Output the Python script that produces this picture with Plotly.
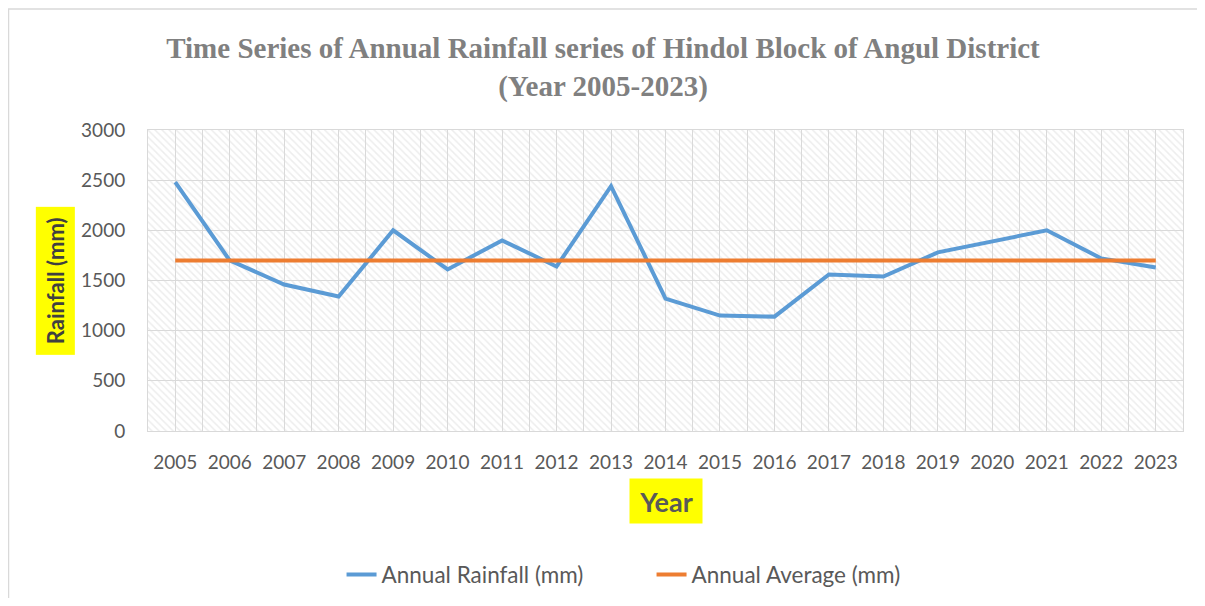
import plotly.graph_objects as go

# ---------------------------------------------------------------
# DATA
# ---------------------------------------------------------------
years = [2005, 2006, 2007, 2008, 2009, 2010, 2011, 2012, 2013, 2014,
         2015, 2016, 2017, 2018, 2019, 2020, 2021, 2022, 2023]
rainfall = [2480, 1700, 1460, 1340, 2000, 1610, 1900, 1640, 2440, 1320,
            1150, 1140, 1560, 1540, 1780, 1890, 2000, 1720, 1630]
average = [1700] * len(years)
y_ticks = [0, 500, 1000, 1500, 2000, 2500, 3000]

C_BLUE = "#5B9BD5"
C_ORANGE = "#ED7D31"
C_GRID = "#d9d9d9"
C_TEXT = "#595959"
FONT_SANS = "Lato, Open Sans, sans-serif"
TICK_FONT = dict(family=FONT_SANS, size=19, color=C_TEXT)

fig = go.Figure()

# hatched plot background (one bar per category, full axis height)
fig.add_trace(
    go.Bar(
        x=years,
        y=[y_ticks[-1]] * len(years),
        width=1,
        marker=dict(
            color="rgba(0,0,0,0)",
            line=dict(width=0),
            pattern=dict(shape="\\", fgcolor="#dcdcdc", bgcolor="rgba(0,0,0,0)",
                         size=5, solidity=0.3),
        ),
        showlegend=False,
        hoverinfo="skip",
    )
)

fig.add_trace(
    go.Scatter(
        x=years, y=rainfall, mode="lines", name="Annual Rainfall (mm)",
        line=dict(color=C_BLUE, width=4),
    )
)
fig.add_trace(
    go.Scatter(
        x=years, y=average, mode="lines", name="Annual Average (mm)",
        line=dict(color=C_ORANGE, width=4),
    )
)

# axis titles with yellow highlight
fig.add_annotation(
    x=-0.09, y=0.5, xref="paper", yref="paper", xanchor="center", yanchor="middle",
    text="<b>Rainfall (mm)</b>", textangle=-90, showarrow=False,
    bgcolor="#FFFF00", borderpad=4, width=139, height=30,
    font=dict(family=FONT_SANS, size=22, color="#404040"),
)
fig.add_annotation(
    x=0.5, y=-0.2326, xref="paper", yref="paper", xanchor="center", yanchor="middle",
    text="<b>Year</b>", showarrow=False,
    bgcolor="#FFFF00", borderpad=4, width=64, height=36,
    font=dict(family=FONT_SANS, size=27, color=C_TEXT),
)

# outer chart frame (only top and left edges fall inside the picture)
fig.add_shape(type="rect", xref="paper", yref="paper", x0=-0.1348, x1=1.2,
              y0=-1.0, y1=1.402, line=dict(color=C_GRID, width=1.5))

fig.update_layout(
    width=1190,
    height=590,
    margin=dict(l=140, r=15, t=122, b=167, autoexpand=False),
    paper_bgcolor="white",
    plot_bgcolor="white",
    bargap=0,
    title=dict(
        text="<b>Time Series of Annual Rainfall series of Hindol Block of Angul District<br>(Year 2005-2023)</b>",
        x=0.5, xanchor="center", y=0.915, yanchor="top",
        font=dict(family="Liberation Serif, Times New Roman, serif", size=29, color="#808080"),
    ),
    xaxis=dict(
        range=[years[0] - 0.5, years[-1] + 0.5],
        tickvals=years,
        ticktext=[str(y) for y in years],
        tickfont=TICK_FONT,
        showgrid=True, gridcolor=C_GRID, gridwidth=1,
        minor=dict(tick0=years[0] - 0.5, dtick=1, showgrid=True, gridcolor=C_GRID, gridwidth=1),
        showline=True, linecolor=C_GRID, mirror=True,
        zeroline=False, ticks="", ticklabelstandoff=14,
        fixedrange=True,
    ),
    yaxis=dict(
        range=[y_ticks[0], y_ticks[-1]],
        tickvals=y_ticks,
        tickfont=TICK_FONT,
        showgrid=True, gridcolor=C_GRID, gridwidth=1,
        showline=True, linecolor=C_GRID, mirror=True,
        zeroline=False, ticks="", ticklabelstandoff=18,
    ),
    legend=dict(
        orientation="h", x=0.187, xanchor="left", y=-0.478, yanchor="middle",
        font=dict(family=FONT_SANS, size=22.5, color=C_TEXT),
        traceorder="normal", entrywidth=265, entrywidthmode="pixels",
    ),
)

fig.write_html("out.html")
